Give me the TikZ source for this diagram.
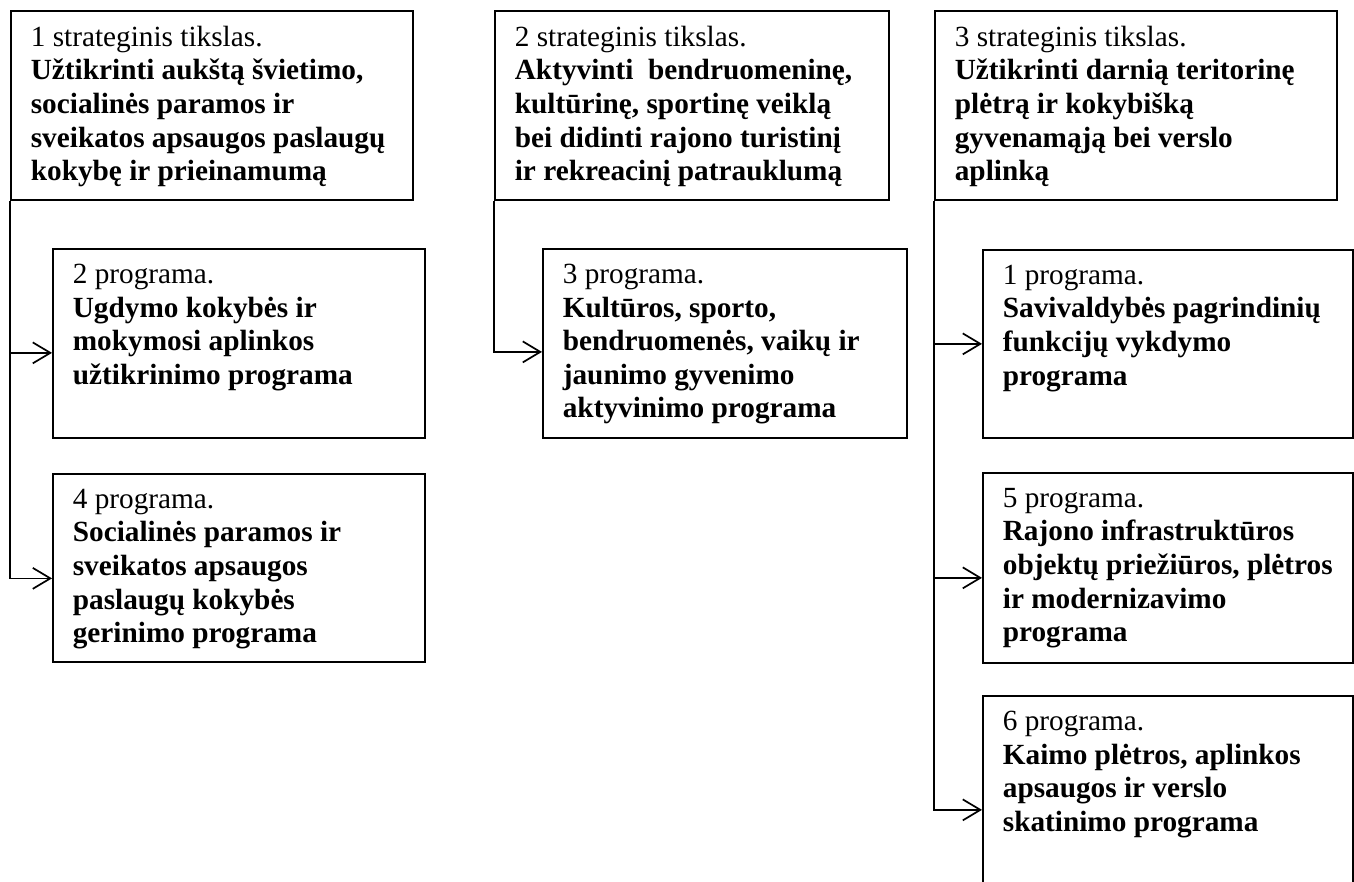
\documentclass[tikz,border=0pt]{standalone}
\usepackage{fontspec}
\setmainfont{Liberation Serif}
\usetikzlibrary{arrows.meta}

% text block inside a box: width, height, lines
\newcommand{\boxtext}[3]{\parbox[c][#2][t]{#1}{\raggedright\leftskip=8.2pt #3}}

\begin{document}
\begin{tikzpicture}[
    x=0.41pt, y=-0.41pt,
    goal/.style={rectangle, draw=black, line width=0.7pt, anchor=north west, inner xsep=0pt, inner ysep=6.2pt, font=\fontsize{12}{13.8}\selectfont},
    prog/.style={goal},
    arr/.style={-{Straight Barb[length=7.2pt, width=8.6pt]}, line width=0.7pt}
]
    \useasboundingbox (0,0) rectangle (1354,882);
    \clip (0,0) rectangle (1354,882);

    % strategic goals
    \node[goal] (g1) at (10,10) {\boxtext{164.8pt}{65.1pt}{1 strateginis tikslas.\\
        \textbf{Užtikrinti aukštą švietimo,\\ socialinės paramos ir\\ sveikatos apsaugos paslaugų\\ kokybę ir prieinamumą}}};
    \node[goal] (g2) at (494,10) {\boxtext{161.5pt}{65.1pt}{2 strateginis tikslas.\\
        \textbf{Aktyvinti\ \ bendruomeninę,\\ kultūrinę, sportinę veiklą\\ bei didinti rajono turistinį\\ ir rekreacinį patrauklumą}}};
    \node[goal] (g3) at (934,10) {\boxtext{164.8pt}{65.1pt}{3 strateginis tikslas.\\
        \textbf{Užtikrinti darnią teritorinę\\ plėtrą ir kokybišką\\ gyvenamąją bei verslo\\ aplinką}}};

    % programmes
    \node[prog] (p2) at (52,248) {\boxtext{152.5pt}{65.1pt}{2 programa.\\
        \textbf{Ugdymo kokybės ir\\ mokymosi aplinkos\\ užtikrinimo programa}}};
    \node[prog] (p4) at (52,473) {\boxtext{152.5pt}{64.7pt}{4 programa.\\
        \textbf{Socialinės paramos ir\\ sveikatos apsaugos\\ paslaugų kokybės\\ gerinimo programa}}};
    \node[prog] (p3) at (542,248) {\boxtext{149.2pt}{65.1pt}{3 programa.\\
        \textbf{Kultūros, sporto,\\ bendruomenės, vaikų ir\\ jaunimo gyvenimo\\ aktyvinimo programa}}};
    \node[prog] (p1) at (982,249) {\boxtext{151.7pt}{64.7pt}{1 programa.\\
        \textbf{Savivaldybės pagrindinių\\ funkcijų vykdymo\\ programa}}};
    \node[prog] (p5) at (982,472) {\boxtext{151.7pt}{65.5pt}{5 programa.\\
        \textbf{Rajono infrastruktūros\\ objektų priežiūros, plėtros\\ ir modernizavimo\\ programa}}};
    \node[prog] (p6) at (982,695) {\boxtext{151.7pt}{81.1pt}{6 programa.\\
        \textbf{Kaimo plėtros, aplinkos\\ apsaugos ir verslo\\ skatinimo programa}}};

    % connectors
    \draw[arr] (g1.south west) |- ([yshift=-3.9pt]p2.west);
    \draw[arr] (g1.south west) |- ([yshift=-4.3pt]p4.west);
    \draw[arr] (g2.south west) |- ([yshift=-3.5pt]p3.west);
    \draw[arr] (g3.south west) |- (p1.west);
    \draw[arr] (g3.south west) |- ([yshift=-4.1pt]p5.west);
    \draw[arr] (g3.south west) |- (p6.west);
\end{tikzpicture}
\end{document}
